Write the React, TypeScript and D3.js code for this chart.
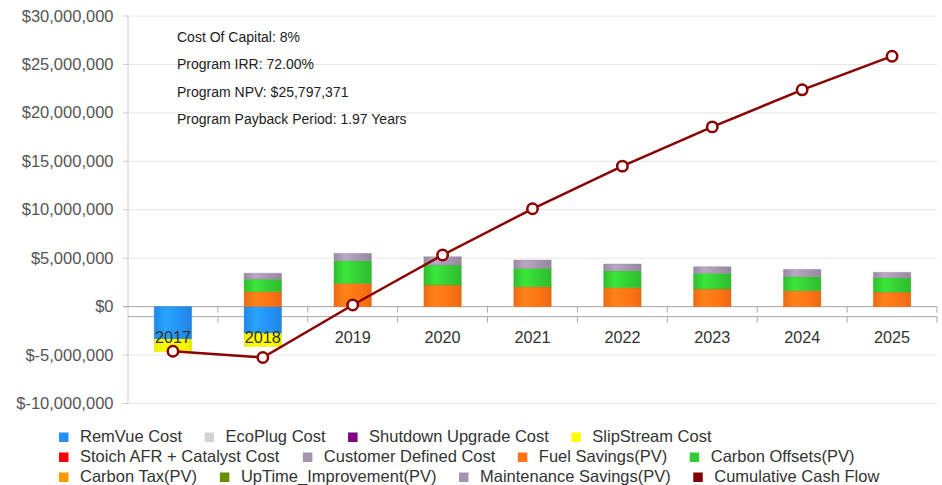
import React from "react";
import * as d3 from "d3";

const years = ["2017", "2018", "2019", "2020", "2021", "2022", "2023", "2024", "2025"];

const remVueCost = [-3.35e6, -2.76e6, 0, 0, 0, 0, 0, 0, 0];
const ecoPlugCost = [0, 0, 0, 0, 0, 0, 0, 0, 0];
const shutdownUpgradeCost = [0, 0, 0, 0, 0, 0, 0, 0, 0];
const slipStreamCost = [-1.3e6, -1.36e6, 0, 0, 0, 0, 0, 0, 0];
const stoichCost = [0, 0, 0, 0, 0, 0, 0, 0, 0];
const customerDefinedCost = [0, 0, 0, 0, 0, 0, 0, 0, 0];
const fuelSavings = [0, 1.55e6, 2.4e6, 2.23e6, 2.05e6, 1.95e6, 1.82e6, 1.64e6, 1.5e6];
const carbonOffsets = [0, 1.28e6, 2.34e6, 2.06e6, 1.9e6, 1.75e6, 1.62e6, 1.45e6, 1.48e6];
const carbonTax = [0, 0, 0, 0, 0, 0, 0, 0, 0];
const upTimeImprovement = [0, 0, 0, 0, 0, 0, 0, 0, 0];
const maintenanceSavings = [0, 0.62e6, 0.76e6, 0.86e6, 0.86e6, 0.7e6, 0.68e6, 0.76e6, 0.56e6];
const cumulativeCashFlow = [-4.6e6, -5.25e6, 0.17e6, 5.33e6, 10.1e6, 14.5e6, 18.55e6, 22.38e6, 25.85e6];

const yTicks = [-10e6, -5e6, 0, 5e6, 10e6, 15e6, 20e6, 25e6, 30e6];

const annotations = [
  "Cost Of Capital: 8%",
  "Program IRR: 72.00%",
  "Program NPV: $25,797,371",
  "Program Payback Period: 1.97 Years",
];

const seriesNames = [
  "RemVue Cost",
  "EcoPlug Cost",
  "Shutdown Upgrade Cost",
  "SlipStream Cost",
  "Stoich AFR + Catalyst Cost",
  "Customer Defined Cost",
  "Fuel Savings(PV)",
  "Carbon Offsets(PV)",
  "Carbon Tax(PV)",
  "UpTime_Improvement(PV)",
  "Maintenance Savings(PV)",
  "Cumulative Cash Flow",
];
const seriesValues = [
  remVueCost,
  ecoPlugCost,
  shutdownUpgradeCost,
  slipStreamCost,
  stoichCost,
  customerDefinedCost,
  fuelSavings,
  carbonOffsets,
  carbonTax,
  upTimeImprovement,
  maintenanceSavings,
];
const seriesColors = [
  "#2391f7",
  "#d3d3d3",
  "#800080",
  "#ffff00",
  "#ff0000",
  "#a494ae",
  "#ff7315",
  "#33cc33",
  "#ff9900",
  "#6b8e00",
  "#a494ae",
  "#800000",
];
const legendRows = [4, 4, 4];

const W = 942;
const H = 485;
const FONT = "'Liberation Sans', Arial, sans-serif";

function measure(text: string, size: number) {
  const c = document.createElement("canvas").getContext("2d");
  if (!c) return text.length * size * 0.55;
  c.font = `${size}px ${FONT}`;
  return c.measureText(text).width;
}

function fmt(v: number) {
  if (v === 0) return "$0";
  return "$" + (v < 0 ? "-" : "") + d3.format(",")(Math.abs(v));
}

export default function App() {
  const plotLeft = 128;
  const plotRight = 937;
  const y = d3.scaleLinear().domain([-10e6, 30e6]).range([403.5, 16]);
  const x = d3.scaleBand<string>().domain(years).range([plotLeft, plotRight]).padding(0);
  const barW = x.bandwidth() * 0.417;
  const y0 = y(0);
  const axis2Y = y0 + 10;

  const rows = years.map((yr, i) => {
    const r: any = { year: yr };
    seriesNames.slice(0, seriesValues.length).forEach((n, k) => (r[n] = seriesValues[k][i]));
    return r;
  });
  const keys = seriesNames.slice(0, seriesValues.length);
  const stacked = d3.stack<any>().keys(keys).offset(d3.stackOffsetDiverging)(rows);

  const cx = (yr: string) => (x(yr) as number) + x.bandwidth() / 2;
  const line = d3
    .line<number>()
    .x((_, i) => cx(years[i]))
    .y((d) => y(d));

  const tickXs = years.map((yr) => (x(yr) as number) + x.bandwidth());

  // legend layout
  const legendItems: { name: string; color: string; sx: number; by: number }[] = [];
  let idx = 0;
  legendRows.forEach((count, r) => {
    let sx = 59;
    const by = 442 + r * 20;
    for (let j = 0; j < count; j++) {
      const name = seriesNames[idx];
      legendItems.push({ name, color: seriesColors[idx], sx, by });
      sx += 21 + measure(name, 16.5) + 22.5;
      idx++;
    }
  });

  return (
    <svg
      width={W}
      height={H}
      style={{ position: "absolute", left: 0, top: 0, background: "#fff" }}
      fontFamily={FONT}
    >
      <defs>
        {seriesColors.map((c, i) => {
          const base = d3.color(c) as d3.RGBColor;
          return (
            <linearGradient key={i} id={`g${i}`} x1="0" x2="1" y1="0" y2="0">
              <stop offset="0%" stopColor={base.darker(0.2).toString()} />
              <stop offset="30%" stopColor={base.brighter(0.35).toString()} />
              <stop offset="70%" stopColor={base.toString()} />
              <stop offset="100%" stopColor={base.darker(0.25).toString()} />
            </linearGradient>
          );
        })}
      </defs>

      {/* grid */}
      {yTicks.map((t) => (
        <line key={t} x1={plotLeft} x2={plotRight} y1={y(t)} y2={y(t)} stroke="#e6e6e6" strokeWidth={1} />
      ))}

      {/* annotations */}
      {annotations.map((t, i) => (
        <text key={t} x={177} y={41.7 + i * 27.5} fontSize={14} fill="#222">
          {t}
        </text>
      ))}

      {/* y axis */}
      <line x1={plotLeft} x2={plotLeft} y1={y(30e6)} y2={y(-10e6)} stroke="#ccc" strokeWidth={1} />
      {yTicks.map((t) => (
        <g key={t}>
          <line x1={plotLeft - 5} x2={plotLeft} y1={y(t)} y2={y(t)} stroke="#ccc" />
          <text x={113.5} y={y(t) + 5.5} textAnchor="end" fontSize={16.5} fill="#555">
            {fmt(t)}
          </text>
        </g>
      ))}

      {/* x axes */}
      <line x1={plotLeft - 5} x2={plotRight} y1={y0} y2={y0} stroke="#aaa" strokeWidth={1} />
      <line x1={plotLeft} x2={plotRight} y1={axis2Y} y2={axis2Y} stroke="#aaa" strokeWidth={1} />
      {tickXs.map((tx, i) => (
        <g key={i}>
          <line x1={tx} x2={tx} y1={y0} y2={y0 + 6} stroke="#aaa" />
          <line x1={tx} x2={tx} y1={axis2Y} y2={axis2Y + 6} stroke="#aaa" />
        </g>
      ))}

      {/* bars */}
      {stacked.map((s, k) => (
        <g key={s.key} fill={`url(#g${k})`}>
          {s.map((d, i) => {
            const top = y(Math.max(d[0], d[1]));
            const bot = y(Math.min(d[0], d[1]));
            if (bot - top < 0.01) return null;
            return (
              <rect
                key={i}
                x={cx(years[i]) - barW / 2}
                y={top}
                width={barW}
                height={bot - top}
                stroke={(d3.color(seriesColors[k]) as d3.RGBColor).darker(0.4).toString()}
                strokeOpacity={0.35}
                strokeWidth={1}
              />
            );
          })}
        </g>
      ))}

      {/* x labels */}
      {years.map((yr) => (
        <text key={yr} x={cx(yr)} y={343.3} textAnchor="middle" fontSize={16.2} fill="#333">
          {yr}
        </text>
      ))}

      {/* cumulative line */}
      <path d={line(cumulativeCashFlow) || ""} fill="none" stroke="#8b0000" strokeWidth={2.5} />
      {cumulativeCashFlow.map((v, i) => (
        <circle key={i} cx={cx(years[i])} cy={y(v)} r={5.2} fill="#fff" stroke="#8b0000" strokeWidth={2.5} />
      ))}

      {/* legend */}
      {legendItems.map((it) => (
        <g key={it.name}>
          <rect x={it.sx} y={it.by - 9.5} width={9.5} height={9.5} fill={it.color} />
          <text x={it.sx + 21} y={it.by} fontSize={16.5} fill="#333">
            {it.name}
          </text>
        </g>
      ))}
    </svg>
  );
}
